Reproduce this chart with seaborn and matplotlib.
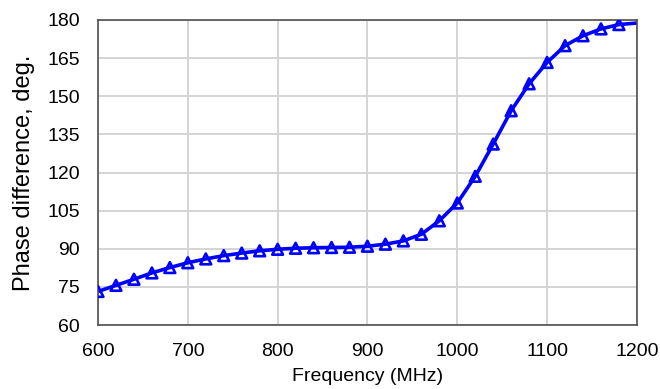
import pandas as pd
import matplotlib
matplotlib.use('Agg')
import matplotlib.pyplot as plt
import seaborn as sns

# --- Data ---
freq_mhz = [600, 620, 640, 660, 680, 700, 720, 740, 760, 780, 800, 820, 840, 860, 880,
            900, 920, 940, 960, 980, 1000, 1020, 1040, 1060, 1080, 1100, 1120, 1140,
            1160, 1180, 1200]
phase_deg = [73.2, 75.6, 78.0, 80.5, 82.6, 84.5, 86.0, 87.3, 88.3, 89.2, 89.8, 90.2,
             90.4, 90.5, 90.6, 91.0, 91.8, 93.1, 95.7, 101.0, 108.0, 118.5, 131.2,
             144.3, 154.9, 163.3, 169.9, 173.8, 176.5, 178.2, 178.8]
marker_freqs = freq_mhz[:-1]  # no marker at 1200

df = pd.DataFrame({'freq': freq_mhz, 'phase': phase_deg})
df_mk = df[df['freq'].isin(marker_freqs)]

# --- Plot ---
sns.set_style("white")
plt.rcParams['font.family'] = ['Liberation Sans', 'DejaVu Sans']

fig = plt.figure(figsize=(6.6, 3.89), dpi=100)
ax = fig.add_axes([0.1485, 0.1645, 0.8165, 0.7841])

sns.lineplot(data=df, x='freq', y='phase', ax=ax, color='#0000ff', linewidth=2.6)
sns.scatterplot(data=df_mk, x='freq', y='phase', ax=ax, marker='^', s=60,
                facecolor='none', edgecolor='#0000ff', linewidth=1.9, zorder=5)

ax.set_xlim(600, 1200)
ax.set_ylim(60, 180)
ax.set_xticks(range(600, 1201, 100))
ax.set_yticks(range(60, 181, 15))
ax.grid(True, color='#d4d4d4', linewidth=1.4)
ax.set_axisbelow(True)
ax.tick_params(axis='both', length=0, labelsize=14, pad=13, colors='black')

for sp in ax.spines.values():
    sp.set_color('#505050')
    sp.set_linewidth(1.2)

ax.set_xlabel('Frequency (MHz)', fontsize=14, labelpad=6, color='black')
ax.set_ylabel('Phase difference, deg.', fontsize=17, labelpad=9, color='black')

plt.savefig('out.png', dpi=100)
